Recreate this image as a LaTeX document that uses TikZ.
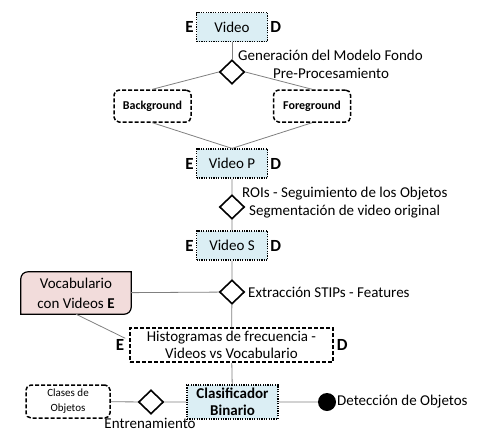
\documentclass[tikz,border=0pt]{standalone}
\usepackage{fontspec}
\setmainfont{Carlito}
\usepackage{xcolor}
\usepackage{tikz}
\usetikzlibrary{shapes.geometric,backgrounds}

\definecolor{cajaazul}{HTML}{DBEEF4}
\definecolor{cajarosa}{HTML}{F2DCDB}

\begin{document}
\begin{tikzpicture}[x=1pt,y=-1pt,
    font=\fontsize{15}{17}\selectfont,
    etapa/.style={draw=black, fill=cajaazul, line width=1.2pt, dash pattern=on 1.2pt off 1.2pt,
      minimum width=71pt, minimum height=29pt, inner sep=0pt, align=center},
    datos/.style={draw=black, line width=1.5pt, dash pattern=on 4pt off 2pt,
      inner sep=0pt, align=center},
    decision/.style={diamond, draw=black, fill=white, line width=1.6pt,
      minimum width=25pt, minimum height=24pt, inner sep=0pt},
    lado/.style={font=\fontsize{17}{17}\selectfont\bfseries, inner sep=1pt},
    texto/.style={anchor=west, inner sep=0pt},
    enlace/.style={draw=gray, line width=0.8pt}]
  \useasboundingbox (0,0) rectangle (482,434);

  % etapas del video
  \node[etapa] (video) at (232,27) {Video};
  \node[etapa] (vp) at (232,163.5) {Video P};
  \node[etapa] (vs) at (232,245.5) {Video S};
  \node[datos, minimum width=203pt, minimum height=34pt, font=\fontsize{15}{17}\selectfont]
    (hist) at (231.5,345) {Histogramas de frecuencia -\\Videos vs Vocabulario};
  \node[etapa, minimum width=91pt, minimum height=34pt, font=\fontsize{15}{17}\selectfont\bfseries]
    (clas) at (232.5,402) {Clasificador\\Binario};

  \foreach \caja in {video,vp,vs}{
    \node[lado, anchor=east] (\caja E) at ([xshift=-1pt]\caja.west) {E};
    \node[lado, anchor=west] (\caja D) at ([xshift=1pt]\caja.east) {D};
  }
  \node[lado, anchor=east] (histE) at ([xshift=-4pt]hist.west) {E};
  \node[lado, anchor=west] (histD) at ([xshift=2pt]hist.east) {D};

  % modelo de fondo
  \node[datos, rounded corners=5pt, minimum width=77pt, minimum height=32pt,
    font=\fontsize{12}{14}\selectfont\bfseries] (bg) at (152.5,106) {Background};
  \node[datos, rounded corners=5pt, minimum width=77pt, minimum height=32pt,
    font=\fontsize{12}{14}\selectfont\bfseries] (fg) at (312,106) {Foreground};

  % vocabulario y clases
  \node[minimum width=110pt, minimum height=42pt, inner sep=0pt, align=center,
    font=\fontsize{15}{20}\selectfont] (vocab) at (76,293) {Vocabulario\\con Videos \textbf{E}};
  \begin{scope}[on background layer]
    \draw[line width=1.2pt, fill=cajarosa] (vocab.north) [sharp corners] -- (vocab.north east)
      [rounded corners=7pt] -- (vocab.south east) [sharp corners] -- (vocab.south west)
      [rounded corners=7pt] -- (vocab.north west) [sharp corners] -- (vocab.north) -- cycle;
  \end{scope}
  \node[datos, rounded corners=5pt, minimum width=84pt, minimum height=33pt,
    font=\fontsize{11}{15}\selectfont] (clases) at (68,401.5) {Clases de\\Objetos};

  % decisiones
  \node[decision] (d1) at (232,72) {};
  \node[decision] (d2) at (232,207) {};
  \node[decision] (d3) at (232,292) {};
  \node[decision] (d4) at (151,402) {};
  \node[circle, fill=black, minimum size=18pt, inner sep=0pt] (punto) at (327,402) {};

  % conexiones
  \draw[enlace] (video) -- (d1);
  \draw[enlace] (d1.west) -- (bg.north);
  \draw[enlace] (d1.east) -- (fg.north);
  \draw[enlace] (bg.south) -- (vp.north);
  \draw[enlace] (fg.south) -- (vp.north);
  \draw[enlace] (vp) -- (d2) -- (vs) -- (d3) -- (hist) -- (clas);
  \draw[enlace] (vocab) -- (d3);
  \draw[enlace] (vocab.south) -- (histE.north east);
  \draw[enlace] (clases) -- (d4) -- (clas) -- (punto);

  % textos
  \node[texto] (gen) at (238,55) {Generación del Modelo Fondo};
  \node[texto] (pre) at (273,73) {Pre-Procesamiento};
  \node[texto] (rois) at (242,194) {ROIs - Seguimiento de los Objetos};
  \node[texto] (segm) at (249,212) {Segmentación de video original};
  \node[texto] (extr) at (248,292) {Extracción STIPs - Features};
  \node[inner sep=0pt] (entr) at (150,423) {Entrenamiento};
  \node[texto] (dete) at (337,402) {Detección de Objetos};
\end{tikzpicture}
\end{document}
